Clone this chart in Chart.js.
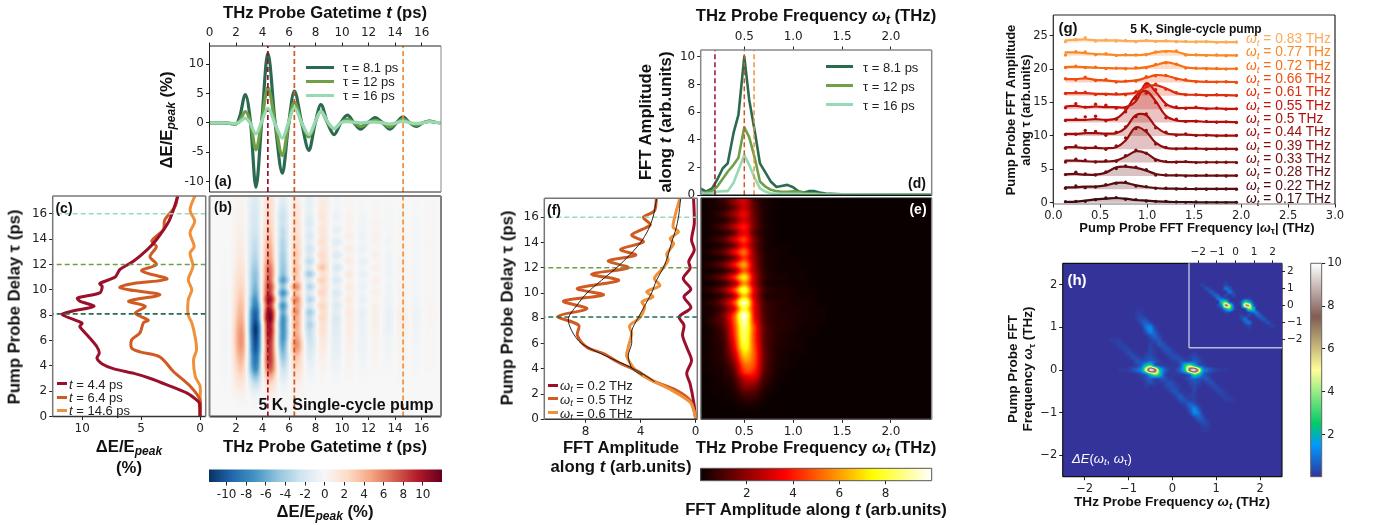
<!DOCTYPE html>
<html>
<head>
<meta charset="utf-8">
<script src="https://cdn.jsdelivr.net/npm/chart.js@4"></script>
<style>
	html, body { margin: 0; padding: 0; background: #fff; }
	#page { position: relative; width: 1374px; height: 525px; overflow: hidden; }
	canvas { position: absolute; left: 0; top: 0; }
	.lbl { position: absolute; white-space: nowrap; line-height: 1; color: #111; }
	.lbl sub { font-size: 0.72em; line-height: 0; vertical-align: -0.28em; }
	.key { position: absolute; height: 3px; }
</style>
</head>
<body>
<div id="page"></div>
<script>
// gate time knots (extrema and crossings of the waveforms)
const gateT = [0, 1, 1.5, 2, 2.3, 2.7, 3.1, 3.5, 3.95, 4.4, 4.95, 5.5, 5.95, 6.4, 6.95, 7.5, 7.95, 8.4, 8.9, 9.4, 9.9, 10.4, 10.9, 11.4, 11.95, 12.5, 13.05, 13.6, 14.1, 14.6, 15.1, 15.6, 16.1, 16.6, 17, 17.5];
const wave81 = [0, 0, -0.1, -0.2, 1.2, 4.8, 0, -11, 0.5, 11.9, 0, -8.6, -0.5, 5.4, 0, -4.7, -0.3, 3.1, 0, -2, 0, 1.3, 0, -1.1, 0, 0.9, 0, -1.1, 0, 1, 0, -0.6, 0, 0.3, 0.1, 0];
const wave12 = [0, 0, -0.1, -0.2, 0.4, 1.9, 0, -4.6, 0.5, 6, 0, -5.6, -0.4, 3.5, 0, -2.4, -0.1, 2, 0, -1, 0, 0.6, 0, -0.6, 0, 0.4, 0, -0.7, 0, 0.6, 0, -0.4, 0, 0.3, 0.1, 0];
const wave16 = [0, 0, -0.05, -0.1, 0.2, 0.8, -0.2, -1.9, 0.3, 2.5, -0.2, -2.6, 0, 2.6, 0, -2, 0, 2, 0.2, -1, 0, 0.2, 0.1, 0, 0.1, 0.1, 0, -0.2, 0, 0.3, 0, -0.1, 0, 0.2, 0.1, 0];
const gateCuts = [4.4, 6.4, 14.6];
const delayCuts = [8.1, 12, 16];

// panel (c) slices, value and delay pairs
const sliceA_tau = [0, 1, 1.2, 1.85, 2.5, 3, 3.4, 3.76, 4.15, 4.6, 5, 5.5, 6.3, 7.1, 7.35, 7.5, 8.05, 8.3, 8.7, 9.1, 9.35, 9.75, 10.25, 10.5, 11, 11.6, 12.25, 13.15, 13.95, 15.3, 16.3, 17.5];
const sliceA_val = [0, 0.05, 0.15, 1.1, 2.8, 4.2, 5.6, 7.3, 8.3, 8.75, 8.55, 8.75, 9.45, 10.2, 10, 10.3, 11.7, 10.9, 9, 10.2, 10.4, 8.5, 8.3, 8.5, 7.2, 6.8, 5.65, 4.5, 3.7, 2.7, 2.26, 1.85];
const sliceB_tau = [0, 1.3, 2.4, 3.55, 4.7, 5.1, 5.4, 6.05, 6.6, 7.4, 7.6, 8.15, 8.7, 9.1, 9.6, 10, 10.2, 10.5, 10.85, 11.5, 12, 12.6, 13.4, 13.85, 14.75, 15.5, 16.6, 17.5];
const sliceB_val = [0, 0, 0.85, 2.26, 3.4, 5.1, 5.8, 5.8, 5.1, 4.8, 4.4, 5.5, 4.65, 6.05, 3.4, 6.05, 6.8, 5.65, 2.8, 4.95, 3.7, 4.25, 3.7, 4.1, 3.1, 3, 2.1, 1.9];
const sliceC_tau = [0, 1.3, 2.4, 3.15, 4.5, 5.25, 6.2, 7.4, 8, 9.2, 10, 10.8, 11.85, 12.9, 13.4, 14.5, 15.4, 16.3, 17.5];
const sliceC_val = [0, 0, 0, 0.4, 0.55, 0.3, 0.4, 0.7, 1, 1, 0.7, 1, 0.6, 0.85, 0.5, 0.85, 0.45, 0.85, 0.4];

// panel (b) map, rows from delay 17.25 down to 0.25, columns at gate time 0.5 to 17.5
const mapB = [
	[0, 0, .3, -1.5, 1.9, -1.3, 1, -1, 1, -.3, .2, -.1, .1, -.1, .1, -.1, .1, 0],
	[0, 0, .3, -1.7, 2.1, -1.6, 1.2, -1.1, 1.1, -.3, .3, -.2, .2, -.1, .1, -.1, .1, 0],
	[0, 0, .4, -1.8, 2.3, -2.2, 1.5, -1, 1.2, -.4, .3, -.2, .2, -.2, .1, -.1, .1, 0],
	[0, 0, .5, -2, 2.5, -2.6, 1.6, -1.4, 1.4, -.8, .5, -.4, .2, -.2, .1, -.1, .1, 0],
	[0, 0, .5, -2, 2.7, -2.5, 1.9, -1.6, 1.2, -.4, .5, -.5, .5, -.3, .2, -.2, .1, 0],
	[0, 0, .6, -2.2, 3.1, -3, 1.8, -1.3, 1.5, -1, .4, -.4, .3, -.2, .2, -.1, .1, 0],
	[0, 0, .7, -2.5, 3.5, -3.1, 2.2, -1.8, 1.4, -.6, .8, -.7, .6, -.3, .3, -.2, .1, 0],
	[0, 0, .8, -2.8, 3.9, -3.5, 2.4, -1.5, 1.8, -1.4, .4, -.4, .4, -.4, .3, -.2, .2, 0],
	[0, 0, .9, -3, 4.4, -3.6, 2.8, -2.3, 1.5, -.6, 1, -.8, .3, -.3, .3, -.2, .1, 0],
	[0, 0, 1, -3.3, 4.8, -4, 3, -1.8, 2.3, -1.6, .5, -.4, .7, -.5, .4, -.2, .2, 0],
	[0, 0, 1.2, -3.7, 5.4, -4.2, 3, -3, 2, -.8, 1.1, -.9, .3, -.4, .4, -.3, .2, 0],
	[0, 0, 1.5, -4.2, 6.5, -4.6, 3.2, -2, 3.4, -1.9, .5, -.4, .7, -.5, .5, -.3, .2, 0],
	[0, 0, 1.7, -4.8, 6.9, -5, 3.5, -4, 1.8, -1, 1.2, -.9, .3, -.5, .4, -.3, .2, 0],
	[0, 0, 2, -5, 7.2, -6.5, 2.8, -2, 2.8, -1.8, .6, -.5, .7, -.4, .4, -.3, .2, 0],
	[0, 0, 2.4, -5.4, 8.3, -4.8, 5.8, -3.4, 2, -1, 1, -.8, .4, -.5, .5, -.3, .2, 0],
	[0, 0, 2.7, -6, 8.5, -7, 3.4, -2, 2.6, -1.8, .7, -.5, .7, -.5, .5, -.3, .2, 0],
	[0, 0, 3, -7, 10.4, -5, 5.8, -3.4, 1.6, -1.1, 1.1, -.9, .4, -.6, .5, -.4, .2, 0],
	[0, 0, 3.3, -8, 9, -7, 4.6, -2.2, 2.6, -1.7, .8, -.6, .7, -.7, .6, -.4, .3, 0],
	[0, 0, 3.6, -9.5, 11, -6, 5.5, -4, 2, -1.4, 1.2, -1, .7, -.9, .9, -.6, .3, 0],
	[0, 0, 3.9, -10, 11.7, -7, 4.4, -3, 2.4, -1.9, 1, -.9, .8, -.9, 1, -.6, .3, 0],
	[0, 0, 4.4, -11, 10, -7.2, 4.8, -3.6, 1.8, -1.6, 1, -.8, .7, -.9, .9, -.5, .3, 0],
	[0, 0, 4.8, -11.5, 10, -7, 4.2, -2.9, 1.8, -1.5, .9, -.8, .6, -.8, .7, -.4, .2, 0],
	[0, 0, 5, -11, 9.4, -7, 4.8, -2.6, 1.4, -1.3, .8, -.7, .5, -.6, .6, -.4, .2, 0],
	[0, 0, 5, -10.5, 8.8, -6.4, 5.6, -2.2, 1.2, -1.2, .7, -.7, .5, -.5, .5, -.3, .2, 0],
	[0, 0, 4.6, -10, 8.6, -5.6, 5, -1.8, 1, -1.1, .6, -.6, .4, -.5, .5, -.3, .2, 0],
	[0, 0, 4, -9, 8.6, -4.6, 3.4, -1.4, .8, -.9, .5, -.5, .3, -.4, .4, -.2, .1, 0],
	[0, 0, 3.4, -8.5, 8.3, -3.6, 2.8, -1, .5, -.7, .4, -.4, .2, -.3, .3, -.2, .1, 0],
	[0, 0, 2.8, -7.5, 7.3, -2.6, 2.2, -.7, .4, -.5, .3, -.3, .1, -.2, .2, -.1, .1, 0],
	[0, 0, 2.2, -5.5, 5, -1.8, 1.5, -.4, .2, -.3, .2, -.2, .1, -.1, .1, -.1, 0, 0],
	[0, 0, 1.6, -3.5, 3, -1, .9, -.2, .1, -.2, .1, -.1, 0, 0, .1, 0, 0, 0],
	[0, 0, 1, -2, 1.8, -.5, .5, -.1, 0, 0, 0, 0, 0, 0, 0, 0, 0, 0],
	[0, 0, .6, -.8, 1, -.2, .2, 0, 0, 0, 0, 0, 0, 0, 0, 0, 0, 0],
	[0, 0, .3, -.3, .2, 0, 0, 0, 0, 0, 0, 0, 0, 0, 0, 0, 0, 0],
	[0, 0, .1, -.1, 0, 0, 0, 0, 0, 0, 0, 0, 0, 0, 0, 0, 0, 0],
	[0, 0, 0, 0, 0, 0, 0, 0, 0, 0, 0, 0, 0, 0, 0, 0, 0, 0]
];

// panel (d) spectra
const fftFreq = [0.05, 0.11, 0.17, 0.22, 0.28, 0.33, 0.39, 0.44, 0.5, 0.55, 0.61, 0.66, 0.72, 0.77, 0.83, 0.88, 0.94, 1, 1.05, 1.11, 1.16, 1.22, 1.27, 1.33, 1.5, 2.42];
const spec81 = [.5, .26, .5, 1.1, 1.95, 2.3, 4.5, 5.8, 10, 6.9, 4.5, 2.3, 1.6, 1, .6, .67, .75, .58, .3, .2, .3, .3, .2, .12, .08, .05];
const spec12 = [.2, .2, .3, .6, 1.2, 1.7, 2.2, 2.7, 4.9, 4.2, 2.6, 1, .6, .4, .3, .25, .25, .28, .25, .18, .15, .14, .1, .08, .05, .04];
const spec16 = [.15, .1, .15, .25, .3, .3, .9, 1.8, 2.9, 2.2, 1.2, .5, .25, .15, .1, .1, .1, .1, .1, .08, .08, .08, .06, .06, .05, .04];
const freqCuts = [0.2, 0.5, 0.6];

// panel (e) map, rows from delay 17.25 down to 0.25, columns at frequency 0.1 to 1.3
const mapE = [
	[.1, .3, .8, 2, 3, 1.1, .3, .1, 0, 0, 0, 0, 0],
	[.1, .2, .5, 1.5, 2.8, 1.3, .3, .1, 0, 0, 0, 0, 0],
	[.1, .4, 1, 2.2, 3.4, 1.4, .3, .1, 0, 0, 0, 0, 0],
	[.1, .2, .5, 1.5, 3, 1.5, .3, .1, 0, 0, 0, 0, 0],
	[.1, .5, 1.2, 2.6, 3.9, 1.6, .4, .1, 0, 0, 0, 0, 0],
	[.1, .2, .5, 1.5, 3.4, 1.3, .3, .1, 0, 0, 0, 0, 0],
	[.1, .6, 1.3, 3, 4.5, 1.8, .4, .1, 0, 0, 0, 0, 0],
	[.1, .2, .6, 1.7, 3.8, 1.7, .4, .1, .1, 0, 0, 0, 0],
	[.2, .7, 1.5, 3.4, 5.2, 2, .4, .2, .1, 0, 0, 0, 0],
	[.1, .2, .6, 1.8, 4.4, 2.1, .5, .2, .1, .1, 0, 0, 0],
	[.3, .8, 1.7, 3.8, 6, 2.3, .5, .2, .1, .1, 0, 0, 0],
	[.1, .2, .7, 2, 5, 2.4, .6, .2, .1, .1, .1, 0, 0],
	[.3, .9, 1.9, 4.2, 7.2, 2.9, .7, .3, .2, .1, .1, 0, 0],
	[.1, .2, .8, 2.3, 5.8, 2.7, .6, .2, .2, .1, .1, 0, 0],
	[.3, .9, 2, 4.6, 8.2, 3.4, .9, .4, .3, .2, .1, .1, 0],
	[.1, .3, 1, 2.8, 6.7, 3.1, .7, .3, .3, .2, .1, .1, 0],
	[.3, .8, 2.1, 4.8, 9.5, 3.7, 1, .5, .4, .2, .2, .1, 0],
	[.2, .4, 1.3, 3.5, 8, 3.7, 1, .5, .3, .3, .2, .1, .1],
	[.2, .6, 1.9, 5, 9.8, 3.9, 1.2, .5, .4, .3, .2, .1, .1],
	[.2, .8, 1.7, 5, 9.3, 4.2, 1.2, .5, .4, .3, .2, .1, .1],
	[.1, .5, 1.4, 4.6, 8.8, 4.8, 1.4, .6, .4, .3, .1, .1, 0],
	[.1, .4, 1.2, 4.4, 8.6, 4.7, 1.4, .6, .3, .2, .1, .1, 0],
	[.1, .4, 1, 4, 8.3, 4.7, 1.4, .6, .3, .2, .1, 0, 0],
	[.1, .3, .9, 3.6, 7.9, 4.9, 1.5, .5, .3, .2, .1, 0, 0],
	[.1, .3, .8, 3, 6.9, 5, 1.6, .5, .2, .1, .1, 0, 0],
	[.1, .3, .7, 2.4, 6, 4.9, 1.6, .5, .2, .1, 0, 0, 0],
	[.1, .2, .5, 1.8, 5, 4.6, 1.5, .4, .2, .1, 0, 0, 0],
	[.1, .2, .4, 1.3, 4.3, 4, 1.3, .4, .1, 0, 0, 0, 0],
	[0, .1, .3, .9, 2.7, 3, 1, .3, .1, 0, 0, 0, 0],
	[0, .1, .2, .6, 2, 2, .7, .2, 0, 0, 0, 0, 0],
	[0, .1, .1, .4, 1.3, 1.2, .4, .1, 0, 0, 0, 0, 0],
	[0, 0, .1, .2, .7, .7, .2, 0, 0, 0, 0, 0, 0],
	[0, 0, 0, .1, .3, .3, .1, 0, 0, 0, 0, 0, 0],
	[0, 0, 0, 0, .1, .1, 0, 0, 0, 0, 0, 0, 0],
	[0, 0, 0, 0, 0, 0, 0, 0, 0, 0, 0, 0, 0]
];

// panel (f) slices and the thin fits
const cutE_tau = [0, 1.2, 2.8, 3.65, 4.65, 5.7, 6.65, 7.45, 8.1, 8.85, 9.7, 10.3, 11.15, 11.95, 12.5, 13.4, 14.2, 15.5, 17.5];
const cutE_val = [0, .12, .4, .65, .3, .65, .95, .85, 1.2, .35, .85, .35, .9, .4, .5, .1, .3, .1, .15];
const cutF_tau = [0, .4, 1.5, 2.3, 3.05, 3.85, 4.5, 5.2, 5.7, 6.65, 7.45, 8.15, 8.75, 9.35, 9.85, 10.35, 11, 11.5, 12, 12.55, 13, 13.45, 14.05, 14.6, 15.4, 16, 16.5, 17.5];
const cutF_val = [0, .05, .4, 1.4, 3.1, 4.3, 5.6, 6.7, 7.9, 8.6, 8.5, 10, 7.9, 9.6, 6.7, 8.6, 5.6, 7.55, 4.9, 6.35, 4.35, 5.45, 3.8, 4.65, 3.3, 3.8, 3, 2.85];
const cutG_tau = [0, .4, 1.35, 2.4, 3.6, 4.95, 5.7, 6.8, 7.4, 8, 8.9, 9.3, 9.7, 10.1, 10.6, 11.15, 12, 12.6, 13.1, 13.9, 14.3, 14.85, 15.25, 17.5];
const cutG_val = [0, .05, .4, 1.9, 4.05, 5, 4.9, 4.65, 4.8, 4.1, 3.7, 3.9, 3.1, 3.55, 2.6, 3, 2.35, 2, 2.1, 1.6, 1.85, 1.25, 1.65, 1.15];
const fitF_tau = [3, 4, 5, 6, 7, 8, 9, 10, 11, 12, 13, 14, 15, 16, 17.4];
const fitF_val = [3, 4.5, 6.5, 8.3, 9, 9.25, 8.65, 7.9, 6.85, 5.75, 4.8, 4, 3.45, 3.1, 2.85];
const fitG_tau = [3.5, 4, 5, 6, 7, 8, 9, 10, 11, 12, 13, 14, 15, 16, 17.4];
const fitG_val = [3.9, 4.6, 4.9, 4.65, 4.65, 4.2, 3.7, 3.2, 2.85, 2.35, 2, 1.75, 1.45, 1.25, 1.1];

// panel (g) waterfall, amplitudes above each baseline
const pumpFreq = [0.13, 0.24, 0.34, 0.45, 0.56, 0.67, 0.77, 0.88, 0.99, 1.09, 1.2, 1.31, 1.41, 1.52, 1.63, 1.74, 1.84, 1.95];
const probeLabels = ['0.17', '0.22', '0.28', '0.33', '0.39', '0.44', '0.5', '0.55', '0.61', '0.66', '0.72', '0.77', '0.83'];
const probeBase = [0, 2, 4, 6, 8, 10, 12, 14, 16, 18, 20, 22, 24];
const probeColors = ['#420a0e', '#560c10', '#690d10', '#7a0d0e', '#8c0d0c', '#9e0e0a', '#b00f0a', '#c4120a', '#de2c0c', '#f04c0e', '#f86e14', '#fb8826', '#fcab58'];
const fit017 = [.1, .15, .3, .5, .6, .7, .6, .4, .3, .2, .15, .1, .1, .05, .05, .05, .05, .05];
const fit022 = [.3, .3, .4, .4, .6, .95, .95, .6, .35, .2, .1, .1, .05, .05, .05, .05, .05, .05];
const fit028 = [.25, .3, .2, .2, .5, 1.3, 1.4, 1.2, .8, .3, .1, .1, .05, .05, .05, .05, .05, .05];
const fit033 = [.3, .3, .2, .15, .15, .3, .9, 1.7, 1.4, .5, .1, .1, .1, .05, .05, .05, .05, .05];
const fit039 = [.3, .3, .2, .2, .15, .3, 1.3, 3.3, 2.6, 1, .2, .1, .1, .1, .05, .05, .05, .05];
const fit044 = [.3, .3, .4, .4, .35, .4, 1.2, 3.1, 3.1, 1.4, .4, .2, .2, .1, .1, .05, .05, .05];
const fit050 = [.4, .4, .4, .5, .4, .6, 1.8, 4, 4.7, 3.2, 1, .3, .2, .2, .1, .1, .1, .05];
const fit055 = [.4, .5, .3, .4, .3, .3, .3, 1.2, 3.9, 2.6, .8, .2, .2, .2, .1, .1, .05, .05];
const fit061 = [.4, .4, .4, .3, .3, .2, .3, .5, 1.3, 1.6, 1.1, .4, .2, .15, .1, .1, .1, .05];
const fit066 = [.5, .5, .6, .4, .3, .15, .15, .3, .7, 1.1, 1, .6, .3, .15, .1, .1, .1, .05];
const fit072 = [.3, .35, .3, .2, .15, .1, .1, .1, .3, .6, 1, .7, .25, .1, .1, .05, .05, .05];
const fit077 = [.5, .5, .4, .25, .2, .1, .1, .1, .2, .5, .7, .6, .2, .1, .1, .05, .05, .05];
const fit083 = [.3, .4, .45, .3, .3, .3, .2, .2, .25, .2, .2, .15, .1, .1, .1, .05, .05, .05];
const fitAll = [fit017, fit022, fit028, fit033, fit039, fit044, fit050, fit055, fit061, fit066, fit072, fit077, fit083];
const dot017 = [.15, .2, .2, .45, .7, .75, .5, .45, .25, .2, .2, .1, .05, .1, .05, .05, 0, .05];
const dot022 = [.15, .5, .25, .35, .7, .9, 1.05, .5, .4, .15, .15, .05, .1, .05, 0, .05, .05, 0];
const dot028 = [.2, .55, .3, .15, .6, 1.1, 1.5, 1.3, .95, .15, .15, .1, 0, .05, .1, .05, 0, .05];
const dot033 = [.1, .5, .35, .1, .3, .2, 1.05, 1.85, 1.4, .35, .15, .05, .15, 0, .05, .05, .05, 0];
const dot039 = [.15, .5, .15, .35, 0, .5, 1.7, 3.1, 2.8, .8, .25, .05, .15, .1, 0, .05, .05, 0];
const dot044 = [.2, .25, .8, .65, .1, .55, 1.35, 2.9, 3.3, 1.2, .55, .1, .3, .05, .1, 0, .05, .05];
const dot050 = [.3, .5, .85, .95, .25, .5, 1.6, 3.8, 4.4, 3, .7, .5, .15, .2, .15, .05, .1, 0];
const dot055 = [.2, .8, .3, .75, .6, .15, .1, 1.5, 3.7, 2.9, .6, .35, .1, .3, .05, .15, 0, .05];
const dot061 = [.35, .55, .55, .2, .2, .3, .15, .6, 1.5, 1.75, 1, .45, .15, .15, .05, .15, .05, .05];
const dot066 = [.55, .4, .8, .3, .45, .05, .2, .2, .85, 1, 1.05, .5, .4, .1, .15, .05, .1, 0];
const dot072 = [.25, .45, .25, .3, .1, .15, .05, .2, .2, .7, .95, .75, .15, .15, .05, .1, 0, .05];
const dot077 = [.1, .6, .55, .15, .3, .05, .15, .1, .15, .55, .65, .7, .1, .15, .05, .1, 0, .05];
const dot083 = [.1, .4, .7, .2, .35, .2, .3, .1, .3, .15, .25, .1, .15, .05, .1, 0, .05, .05];
const dotAll = [dot017, dot022, dot028, dot033, dot039, dot044, dot050, dot055, dot061, dot066, dot072, dot077, dot083];

// panel (h) map, rows from +1.4 down to -1.4, columns -1.4 to 1.4, both every 0.1
const mapH = [
	[0, 0, 0, 0, 0, 0, .1, .1],
	[0, 0, 0, 0, 0, 0, .2, .2],
	[0, 0, 0, 0, 0, 0, .2, .4, .3],
	[0, 0, 0, 0, 0, 0, 0, .4, .7, .4],
	[0, 0, 0, 0, 0, 0, 0, .1, .9, 1.2, .3],
	[0, 0, 0, 0, 0, 0, 0, 0, .5, 1.2, .6, .1],
	[0, 0, 0, 0, 0, 0, 0, 0, .1, .5, .7, .3],
	[.1, .15, .15, 0, 0, 0, 0, 0, 0, .2, .4, .5, .1],
	[0, .1, .2, .15, 0, 0, 0, 0, 0, .2, .1, .5, .4, .1],
	[0, 0, .1, .25, .2, 0, 0, 0, 0, .25, .1, .1, .4, .4, .1],
	[0, 0, 0, .1, .3, .2, 0, 0, .1, .3, .1, 0, .1, .4, .3, .1, 0, 0, 0, .15],
	[0, 0, 0, 0, .1, .4, .25, .1, .3, .4, .25, 0, 0, .1, .35, .4, .2, .1, .2, .4, .2],
	[0, 0, 0, 0, 0, .1, .5, .4, .6, .9, .5, .2, 0, 0, .1, .2, .5, .5, .5, .7, .4, .1],
	[0, 0, 0, 0, 0, .1, .3, .8, 2.5, 3.5, 1.2, .4, .2, .1, .1, .1, .7, 2.8, 4, 2.6, .9, .4, .1],
	[0, 0, .1, .1, .2, .4, .8, 1.5, 5, 9.5, 8, 3, 1, .3, .1, .3, 1, 3, 8, 9.5, 6, 1.5, .8, .4, .2, .1, .1, 0, 0],
	[0, 0, 0, 0, 0, 0, .1, .4, .9, 2.6, 4, 2.8, .7, .1, .1, .1, .2, .4, 1.2, 3.5, 2.5, .8, .3, .1],
	[0, 0, 0, 0, 0, 0, 0, .1, .4, .7, .5, .5, .5, .2, .1, 0, 0, .2, .5, .9, .6, .4, .5, .1],
	[0, 0, 0, 0, 0, 0, 0, 0, .2, .4, .2, .1, .2, .4, .35, .1, 0, 0, .25, .4, .3, .1, .25, .4, .1],
	[0, 0, 0, 0, 0, 0, 0, 0, .15, 0, 0, 0, .1, .3, .4, .3, .1, 0, .1, .3, .1, 0, 0, .2, .3, .1],
	[0, 0, 0, 0, 0, 0, 0, 0, 0, 0, 0, 0, 0, .1, .4, .4, .1, .1, 0, .25, 0, 0, 0, 0, .2, .25, .1],
	[0, 0, 0, 0, 0, 0, 0, 0, 0, 0, 0, 0, 0, 0, .1, .4, .5, .1, .2, .2, 0, 0, 0, 0, 0, .15, .2, .1],
	[0, 0, 0, 0, 0, 0, 0, 0, 0, 0, 0, 0, 0, 0, 0, .1, .5, .4, .2, .2, 0, 0, 0, 0, 0, 0, .15, .15, .1],
	[0, 0, 0, 0, 0, 0, 0, 0, 0, 0, 0, 0, 0, 0, 0, 0, .1, .3, .7, .5, .1],
	[0, 0, 0, 0, 0, 0, 0, 0, 0, 0, 0, 0, 0, 0, 0, 0, 0, .1, .6, 1.2, .5],
	[0, 0, 0, 0, 0, 0, 0, 0, 0, 0, 0, 0, 0, 0, 0, 0, 0, 0, .3, 1.2, .9, .1],
	[0, 0, 0, 0, 0, 0, 0, 0, 0, 0, 0, 0, 0, 0, 0, 0, 0, 0, 0, .4, .7, .4],
	[0, 0, 0, 0, 0, 0, 0, 0, 0, 0, 0, 0, 0, 0, 0, 0, 0, 0, 0, 0, .3, .4, .2],
	[0, 0, 0, 0, 0, 0, 0, 0, 0, 0, 0, 0, 0, 0, 0, 0, 0, 0, 0, 0, 0, .2, .2],
	[0, 0, 0, 0, 0, 0, 0, 0, 0, 0, 0, 0, 0, 0, 0, 0, 0, 0, 0, 0, 0, .1, .1]
];

// inset of (h), rows from +2 down to -2, columns -2 to 2, both every 0.2
const mapInset = [
	[],
	[],
	[],
	[0, 0, 0, 0, 0, 0, 0, .1],
	[0, .2, .1, 0, 0, 0, 0, .3, .1],
	[0, 0, .4, .2, 0, 0, 0, .9, .6],
	[0, 0, 0, .5, .4, 0, 0, .1, .9, .3],
	[0, 0, 0, 0, .6, .6, 0, .3, .1, .3],
	[0, 0, 0, 0, 0, .9, .9, .5, .1, 0, 0, 0, .4, .4],
	[0, 0, 0, 0, 0, 0, 2.5, 3.5, .7, .1, 0, .6, 3, 2, .4],
	[0, 0, 0, 0, 0, .4, 1.5, 7, 4.5, .6, .1, .7, 6, 6, 1.2, .1],
	[0, 0, 0, 0, 0, 0, .4, 2, 3, .7, 0, .1, .7, 3.5, 2.5],
	[0, 0, 0, 0, 0, 0, 0, .4, .4, 0, 0, 0, 0, .5, .9, .9],
	[0, 0, 0, 0, 0, 0, 0, 0, 0, 0, 0, .3, .1, .3, 0, .6, .6],
	[0, 0, 0, 0, 0, 0, 0, 0, 0, 0, 0, .3, .9, .1, 0, 0, .4, .5],
	[0, 0, 0, 0, 0, 0, 0, 0, 0, 0, 0, 0, .6, .9, 0, 0, 0, .2, .4],
	[0, 0, 0, 0, 0, 0, 0, 0, 0, 0, 0, 0, .1, .3, 0, 0, 0, 0, .1, .2],
	[0, 0, 0, 0, 0, 0, 0, 0, 0, 0, 0, 0, 0, .1],
	[],
	[],
	[]
];

const rdbuStops = [[0, '#053061'], [.1, '#2166ac'], [.2, '#4393c3'], [.3, '#92c5de'], [.4, '#d1e5f0'], [.5, '#f7f7f7'], [.6, '#fddbc7'], [.7, '#f4a582'], [.8, '#d6604d'], [.9, '#b2182b'], [1, '#67001f']];
const hotStops = [[0, '#0a0000'], [.365, '#ff0000'], [.746, '#ffff00'], [1, '#ffffff']];
const terrainStops = [[0, '#333399'], [.15, '#0099ff'], [.25, '#00cc66'], [.5, '#ffff99'], [.75, '#805c54'], [1, '#ffffff']];

const colGreenDark = '#2a6b50';
const colGreen = '#6fa048';
const colGreenLight = '#97d9b2';
const colCutA = '#9b0f2d';
const colCutB = '#cf5a22';
const colCutC = '#f0913a';

const page = document.getElementById('page');

function hexRgb(h) {
	return [parseInt(h.slice(1, 3), 16), parseInt(h.slice(3, 5), 16), parseInt(h.slice(5, 7), 16)];
}

function cmap(stops, lo, hi) {
	const parsed = stops.map(s => [s[0], hexRgb(s[1])]);
	return v => {
		const p = Math.min(1, Math.max(0, (v - lo) / (hi - lo)));
		for (let i = 1; i < parsed.length; i++) {
			if (p <= parsed[i][0]) {
				const a = parsed[i - 1], b = parsed[i];
				const f = (p - a[0]) / (b[0] - a[0]);
				return [0, 1, 2].map(k => a[1][k] + (b[1][k] - a[1][k]) * f);
			}
		}
		return parsed[parsed.length - 1][1];
	};
}

const colorB = cmap(rdbuStops, -11.9, 11.9);
const colorE = cmap(hotStops, 0, 10);
const colorH = cmap(terrainStops, 0, 10);

function cubic(p0, p1, p2, p3, t) {
	return p1 + 0.5 * t * (p2 - p0 + t * (2 * p0 - 5 * p1 + 4 * p2 - p3 + t * (3 * (p1 - p2) + p3 - p0)));
}

// imshow style map: smoothed in value space, pixel by pixel through the chart scales
function heatPlugin(grid, x0, x1, yTop, yBottom, colorFn) {
	const rows = grid.length;
	const cols = Math.max(...grid.map(r => r.length));
	const cell = (r, c) => {
		const row = grid[Math.min(rows - 1, Math.max(0, r))];
		return row[Math.min(cols - 1, Math.max(0, c))] || 0;
	};
	const sample = (fr, fc) => {
		const ir = Math.floor(fr), ic = Math.floor(fc);
		const line = [];
		for (let k = -1; k <= 2; k++) {
			line.push(cubic(cell(ir + k, ic - 1), cell(ir + k, ic), cell(ir + k, ic + 1), cell(ir + k, ic + 2), fc - ic));
		}
		return cubic(line[0], line[1], line[2], line[3], fr - ir);
	};
	return {
		id: 'heat',
		beforeDatasetsDraw(chart) {
			const { ctx, chartArea: a, scales } = chart;
			const left = Math.round(a.left), top = Math.round(a.top);
			const w = Math.round(a.right) - left, h = Math.round(a.bottom) - top;
			const img = ctx.createImageData(w, h);
			for (let py = 0; py < h; py++) {
				const yv = scales.y.getValueForPixel(top + py + 0.5);
				const fr = (yv - yTop) / (yBottom - yTop) * rows - 0.5;
				for (let px = 0; px < w; px++) {
					const xv = scales.x.getValueForPixel(left + px + 0.5);
					const fc = (xv - x0) / (x1 - x0) * cols - 0.5;
					const inside = fc >= -0.5 && fc <= cols - 0.5 && fr >= -0.5 && fr <= rows - 0.5;
					const rgb = colorFn(inside ? sample(fr, fc) : 0);
					const k = (py * w + px) * 4;
					img.data[k] = rgb[0];
					img.data[k + 1] = rgb[1];
					img.data[k + 2] = rgb[2];
					img.data[k + 3] = 255;
				}
			}
			ctx.putImageData(img, left, top);
		}
	};
}

// colour bar, one stripe per pixel from the scale
function barPlugin(colorFn, vertical) {
	return {
		id: 'bar',
		beforeDatasetsDraw(chart) {
			const { ctx, chartArea: a, scales } = chart;
			if (vertical) {
				for (let p = Math.floor(a.top); p < a.bottom; p++) {
					const c = colorFn(scales.y.getValueForPixel(p + 0.5)).map(Math.round);
					ctx.fillStyle = `rgb(${c[0]},${c[1]},${c[2]})`;
					ctx.fillRect(a.left, p, a.width, 1);
				}
			} else {
				for (let p = Math.floor(a.left); p < a.right; p++) {
					const c = colorFn(scales.x.getValueForPixel(p + 0.5)).map(Math.round);
					ctx.fillStyle = `rgb(${c[0]},${c[1]},${c[2]})`;
					ctx.fillRect(p, a.top, 1, a.height);
				}
			}
		}
	};
}

// spines with their own colours
function framePlugin(f) {
	return {
		id: 'frame',
		afterDraw(chart) {
			const { ctx, chartArea: a } = chart;
			const side = (key, x0, y0, x1, y1) => {
				if (!f[key]) return;
				ctx.strokeStyle = f[key];
				ctx.lineWidth = f.w || 1;
				ctx.beginPath();
				ctx.moveTo(x0, y0);
				ctx.lineTo(x1, y1);
				ctx.stroke();
			};
			side('top', a.left, a.top, a.right, a.top);
			side('bottom', a.left, a.bottom, a.right, a.bottom);
			side('left', a.left, a.top, a.left, a.bottom);
			side('right', a.right, a.top, a.right, a.bottom);
		}
	};
}

// axes get a fixed box so the plot area lands where the layout padding says
const axisRoom = 30;

function axis(a) {
	const hasTicks = a.ticks && a.ticks.length > 0;
	return {
		type: 'linear',
		position: a.position,
		reverse: !!a.reverse,
		min: a.min,
		max: a.max,
		afterFit: s => {
			if (s.isHorizontal()) s.height = axisRoom;
			else s.width = axisRoom;
		},
		afterBuildTicks: s => {
			s.ticks = (a.ticks || []).map(v => ({ value: v }));
		},
		grid: { display: hasTicks, drawOnChartArea: false, drawTicks: hasTicks, tickLength: a.tick || 3.5, tickColor: a.tickColor || '#222', tickWidth: 1 },
		border: { display: false },
		ticks: {
			display: hasTicks,
			autoSkip: false,
			maxRotation: 0,
			minRotation: 0,
			color: '#222',
			font: { family: 'DejaVu Sans', size: a.size || 12 },
			padding: a.pad === undefined ? 2 : a.pad,
			callback: a.fmt || (v => v)
		}
	};
}

function panel(box, opt) {
	const canvas = document.createElement('canvas');
	canvas.width = 1374;
	canvas.height = 525;
	page.appendChild(canvas);
	const pad = { left: box.l, top: box.t, right: 1374 - box.r, bottom: 525 - box.b };
	pad[opt.x.position] -= axisRoom;
	pad[opt.y.position] -= axisRoom;
	return new Chart(canvas, {
		type: 'scatter',
		data: { datasets: opt.datasets || [] },
		options: {
			responsive: false,
			animation: false,
			events: [],
			layout: { padding: pad },
			plugins: { legend: { display: false }, tooltip: { enabled: false } },
			scales: { x: axis(opt.x), y: axis(opt.y) }
		},
		plugins: opt.plugins || []
	});
}

function curve(xs, ys, color, width, extra) {
	return Object.assign({
		data: xs.map((x, i) => ({ x, y: ys[i] })),
		showLine: true,
		borderColor: color,
		backgroundColor: color,
		borderWidth: width,
		pointRadius: 0,
		borderJoinStyle: 'round',
		borderCapStyle: 'round'
	}, extra || {});
}

function vCut(x, y0, y1, color, w) {
	return curve([x, x], [y0, y1], color, w || 1.7, { borderDash: [5, 3], borderCapStyle: 'butt' });
}

function hCut(y, x0, x1, color) {
	return curve([x0, x1], [y, y], color, 1.6, { borderDash: [5, 3], borderCapStyle: 'butt' });
}

function label(html, x, y, size, opt) {
	opt = opt || {};
	const el = document.createElement('div');
	el.className = 'lbl';
	el.innerHTML = html;
	el.style.left = x + 'px';
	el.style.top = y + 'px';
	el.style.fontSize = size + 'px';
	el.style.fontFamily = opt.family || "'Liberation Sans'";
	el.style.fontWeight = opt.weight || 'bold';
	if (opt.color) el.style.color = opt.color;
	const ax = opt.anchor === 'left' ? '0' : '-50%';
	el.style.transform = `translate(${ax},-50%)` + (opt.rot ? ` rotate(${opt.rot}deg)` : '');
	page.appendChild(el);
}

function keyLine(x0, x1, y, color) {
	const el = document.createElement('div');
	el.className = 'key';
	el.style.left = x0 + 'px';
	el.style.top = (y - 1.5) + 'px';
	el.style.width = (x1 - x0) + 'px';
	el.style.background = color;
	page.appendChild(el);
}

const minusFmt = v => String(v).replace('-', '\u2212');
const oneDec = v => v.toFixed(1);
const tauBox = [0, 2, 4, 6, 8, 10, 12, 14, 16];
const gateTicks = [0, 2, 4, 6, 8, 10, 12, 14, 16];
const freqTicks = [0.5, 1, 1.5, 2];

// (a)
panel({ l: 209.5, r: 441, t: 46, b: 192 }, {
	x: { position: 'top', min: 0, max: 17.46, ticks: gateTicks },
	y: { position: 'left', min: -11.8, max: 13.1, ticks: [-10, -5, 0, 5, 10] },
	datasets: [
		curve(gateT, wave16, colGreenLight, 3.2, { cubicInterpolationMode: 'monotone' }),
		vCut(gateCuts[0], -11.8, 13.1, colCutA),
		vCut(gateCuts[1], -11.8, 13.1, colCutB),
		vCut(gateCuts[2], -11.8, 13.1, colCutC),
		curve(gateT, wave12, colGreen, 3.2, { cubicInterpolationMode: 'monotone' }),
		curve(gateT, wave81, colGreenDark, 3.2, { cubicInterpolationMode: 'monotone' })
	],
	plugins: [framePlugin({ top: '#222', left: '#222', bottom: '#222', right: '#888' })]
});

// (b)
panel({ l: 209.5, r: 441, t: 196, b: 416.5 }, {
	x: { position: 'bottom', min: 0, max: 17.46, ticks: gateTicks.slice(1) },
	y: { position: 'left', min: 0, max: 17.4, ticks: [] },
	datasets: [
		vCut(gateCuts[0], 0, 17.4, colCutA),
		vCut(gateCuts[1], 0, 17.4, colCutB),
		vCut(gateCuts[2], 0, 17.4, colCutC)
	],
	plugins: [heatPlugin(mapB, 0, 18, 17.5, 0, colorB), framePlugin({ w: 2, top: '#808080', left: '#808080', right: '#808080', bottom: '#444' })]
});

// (c)
panel({ l: 52.7, r: 205.7, t: 196, b: 416.5 }, {
	x: { position: 'bottom', min: -0.48, max: 12.5, reverse: true, ticks: [0, 5, 10] },
	y: { position: 'left', min: 0, max: 17.4, ticks: tauBox },
	datasets: [
		hCut(delayCuts[0], -0.48, 12.5, colGreenDark),
		hCut(delayCuts[1], -0.48, 12.5, colGreen),
		hCut(delayCuts[2], -0.48, 12.5, colGreenLight),
		curve(sliceA_val, sliceA_tau, colCutA, 3, { tension: 0.25 }),
		curve(sliceB_val, sliceB_tau, colCutB, 3, { tension: 0.3 }),
		curve(sliceC_val, sliceC_tau, colCutC, 3, { tension: 0.3 })
	],
	plugins: [framePlugin({ w: 1.5, top: '#777', left: '#777', right: '#777', bottom: '#333' })]
});

// colour bar of (b)
panel({ l: 209.5, r: 441.5, t: 469.5, b: 482 }, {
	x: { position: 'bottom', min: -11.75, max: 11.9, ticks: [-10, -8, -6, -4, -2, 0, 2, 4, 6, 8, 10], pad: 2 },
	y: { position: 'left', min: 0, max: 1, ticks: [] },
	plugins: [barPlugin(colorB, false)]
});

// (d)
panel({ l: 700.7, r: 931.7, t: 50, b: 195.3 }, {
	x: { position: 'top', min: 0.054, max: 2.417, ticks: freqTicks, fmt: oneDec },
	y: { position: 'left', min: 0, max: 10.48, ticks: [0, 2, 4, 6, 8, 10] },
	datasets: [
		vCut(freqCuts[0], 0, 10.48, colCutA, 1.5),
		vCut(freqCuts[1], 0, 10.48, colCutB, 1.5),
		vCut(freqCuts[2], 0, 10.48, colCutC, 1.5),
		curve(fftFreq, spec16, colGreenLight, 2.6),
		curve(fftFreq, spec12, colGreen, 2.6),
		curve(fftFreq, spec81, colGreenDark, 2.6)
	],
	plugins: [framePlugin({ w: 1.5, top: '#888', left: '#888', right: '#888', bottom: '#111' })]
});

// (e)
panel({ l: 700.7, r: 931.7, t: 198.3, b: 419.3 }, {
	x: { position: 'bottom', min: 0.054, max: 2.417, ticks: freqTicks, fmt: oneDec, tick: 3.5 },
	y: { position: 'left', min: 0, max: 17.5, ticks: [] },
	plugins: [heatPlugin(mapE, 0.05, 1.35, 17.5, 0, colorE), framePlugin({ w: 1.5, top: '#111', left: '#888', right: '#888', bottom: '#555' })]
});

// (f)
panel({ l: 544.3, r: 697.3, t: 198.3, b: 419.3 }, {
	x: { position: 'bottom', min: -0.12, max: 11, reverse: true, ticks: [0, 4, 8] },
	y: { position: 'left', min: 0, max: 17.5, ticks: tauBox },
	datasets: [
		curve(fitF_val, fitF_tau, '#111', 0.9, { tension: 0.3 }),
		curve(fitG_val, fitG_tau, '#111', 0.9, { tension: 0.3 }),
		hCut(delayCuts[0], -0.12, 11, colGreenDark),
		hCut(delayCuts[1], -0.12, 11, colGreen),
		hCut(delayCuts[2], -0.12, 11, colGreenLight),
		curve(cutG_val, cutG_tau, colCutC, 3, { tension: 0.3 }),
		curve(cutF_val, cutF_tau, colCutB, 3, { tension: 0.3 }),
		curve(cutE_val, cutE_tau, colCutA, 3, { tension: 0.3 })
	],
	plugins: [framePlugin({ w: 1.5, top: '#777', left: '#777', right: '#777', bottom: '#333' })]
});

// colour bar of (e)
panel({ l: 700.7, r: 931.7, t: 468.3, b: 480.7 }, {
	x: { position: 'bottom', min: 0, max: 10, ticks: [2, 4, 6, 8], pad: 2 },
	y: { position: 'left', min: 0, max: 1, ticks: [] },
	plugins: [barPlugin(colorE, false), framePlugin({ top: '#555', left: '#555', right: '#555', bottom: '#555' })]
});

// (g)
const waterfall = [];
probeLabels.forEach((name, i) => {
	const base = probeBase[i];
	waterfall.push(curve(pumpFreq, fitAll[i].map(v => v + base), probeColors[i], 2.2, {
		tension: 0.35,
		fill: { value: base },
		backgroundColor: probeColors[i] + '40'
	}));
	waterfall.push(Object.assign(curve(pumpFreq, dotAll[i].map(v => v + base), probeColors[i], 0), {
		showLine: false,
		pointRadius: 1.7,
		pointBorderWidth: 0,
		pointBackgroundColor: probeColors[i]
	}));
});
panel({ l: 1053.3, r: 1335, t: 15, b: 204 }, {
	x: { position: 'bottom', min: 0, max: 3, ticks: [0, .5, 1, 1.5, 2, 2.5, 3], fmt: oneDec, size: 11.5 },
	y: { position: 'left', min: -0.2, max: 28.1, ticks: [0, 5, 10, 15, 20, 25], size: 11.5 },
	datasets: waterfall.reverse(),
	plugins: [framePlugin({ w: 1.2, top: '#222', left: '#222', right: '#222', bottom: '#777' })]
});

// (h)
panel({ l: 1062.7, r: 1282, t: 263.3, b: 476.7 }, {
	x: { position: 'bottom', min: -2.5, max: 2.5, ticks: [-2, -1, 0, 1, 2], fmt: minusFmt, size: 11.5 },
	y: { position: 'left', min: -2.5, max: 2.5, ticks: [-2, -1, 0, 1, 2], fmt: minusFmt, size: 11.5 },
	plugins: [heatPlugin(mapH, -1.45, 1.45, 1.45, -1.45, colorH), framePlugin({ w: 1.2, top: '#111', left: '#111', right: '#111', bottom: '#111' })]
});

// inset of (h)
panel({ l: 1189, r: 1282, t: 263.3, b: 347.7 }, {
	x: { position: 'top', min: -2.5, max: 2.5, ticks: [-2, -1, 0, 1, 2], fmt: minusFmt, size: 10.5, tick: 3 },
	y: { position: 'right', min: -2.5, max: 2.5, ticks: [-2, -1, 0, 1, 2], fmt: minusFmt, size: 10.5, tick: 3 },
	plugins: [heatPlugin(mapInset, -2.1, 2.1, 2.1, -2.1, colorH), framePlugin({ w: 1.5, left: '#b9b9dc', bottom: '#b9b9dc' })]
});

// colour bar of (h)
panel({ l: 1310.7, r: 1321.7, t: 263.3, b: 476.7 }, {
	x: { position: 'bottom', min: 0, max: 1, ticks: [] },
	y: { position: 'right', min: 0.03, max: 10, ticks: [2, 4, 6, 8, 10], size: 11.5 },
	plugins: [barPlugin(colorH, true), framePlugin({ top: '#666', left: '#666', right: '#666', bottom: '#666' })]
});

// text
const dEpeak = '\u0394E/E<sub><i>peak</i></sub>';
const wt = '<i>\u03c9</i><sub><i>t</i></sub>';
const wtau = '<i>\u03c9</i><sub>\u03c4</sub>';
const titleSize = 16.7;

label('THz Probe Gatetime <i>t</i> (ps)', 325, 13, titleSize);
label('THz Probe Gatetime <i>t</i> (ps)', 325, 447, titleSize);
label(dEpeak + ' (%)', 167, 120, titleSize, { rot: -90 });
label('Pump Probe Delay \u03c4 (ps)', 15, 307, titleSize, { rot: -90 });
label(dEpeak, 129, 447, titleSize);
label('(%)', 129, 468, titleSize);
label(dEpeak + ' (%)', 325, 512, titleSize);
label('THz Probe Frequency ' + wt + ' (THz)', 816, 16, titleSize);
label('THz Probe Frequency ' + wt + ' (THz)', 816, 448, titleSize);
label('FFT Amplitude', 646, 122, titleSize, { rot: -90 });
label('along <i>t</i> (arb.units)', 666, 122, titleSize, { rot: -90 });
label('Pump Probe Delay \u03c4 (ps)', 508, 308, titleSize, { rot: -90 });
label('FFT Amplitude', 621, 448, titleSize);
label('along <i>t</i> (arb.units)', 621, 467, titleSize);
label('FFT Amplitude along <i>t</i> (arb.units)', 816, 510, titleSize);

label('(a)', 223, 181, 14);
label('(b)', 223, 207, 14);
label('(c)', 64, 208, 14);
label('(d)', 917, 183, 14);
label('(e)', 918, 209, 14, { color: '#fff' });
label('(f)', 554, 210, 14);
label('5 K, Single-cycle pump', 346, 405, 16);

const keyText = { weight: 'normal', anchor: 'left', color: '#222' };
keyLine(306, 334, 67, colGreenDark);
keyLine(306, 334, 81, colGreen);
keyLine(306, 334, 95, colGreenLight);
label('\u03c4 = 8.1 ps', 343, 67, 13, keyText);
label('\u03c4 = 12 ps', 343, 81, 13, keyText);
label('\u03c4 = 16 ps', 343, 95, 13, keyText);

keyLine(57, 67, 383.5, colCutA);
keyLine(57, 67, 397, colCutB);
keyLine(57, 67, 410, colCutC);
label('<i>t</i> = 4.4 ps', 69, 383.5, 13, keyText);
label('<i>t</i> = 6.4 ps', 69, 397, 13, keyText);
label('<i>t</i> = 14.6 ps', 69, 410, 13, keyText);

keyLine(826, 853, 66.7, colGreenDark);
keyLine(826, 853, 85.7, colGreen);
keyLine(826, 853, 104.7, colGreenLight);
label('\u03c4 = 8.1 ps', 863, 67, 13, keyText);
label('\u03c4 = 12 ps', 863, 86, 13, keyText);
label('\u03c4 = 16 ps', 863, 105, 13, keyText);

keyLine(548, 558, 385, colCutA);
keyLine(548, 558, 398.7, colCutB);
keyLine(548, 558, 412.7, colCutC);
label(wt + ' = 0.2 THz', 560, 385, 13, keyText);
label(wt + ' = 0.5 THz', 560, 398.7, 13, keyText);
label(wt + ' = 0.6 THz', 560, 412.7, 13, keyText);

// (g) text
label('(g)', 1068, 27, 15);
label('5 K, Single-cycle pump', 1196, 29, 12);
label('Pump Probe FFT Amplitude', 1010, 110, 13, { rot: -90 });
label('along \u03c4 (arb.units)', 1025, 110, 13, { rot: -90 });
label('Pump Probe FFT Frequency |' + wtau + '| (THz)', 1197, 227, 13);
probeLabels.forEach((name, i) => {
	label(wt + ' = ' + name + ' THz', 1246, 199 - i * 13.33, 13.8, { weight: 'normal', anchor: 'left', color: probeColors[i] });
});

// (h) text
label('(h)', 1077, 279, 15, { color: '#fff' });
label('<i>\u0394E</i>(' + wt + ', ' + wtau + ')', 1072, 458, 13, { weight: 'normal', anchor: 'left', color: '#fff' });
label('Pump Probe FFT', 1013, 369, 13.5, { rot: -90 });
label('Frequency ' + wtau + ' (THz)', 1028, 369, 13.5, { rot: -90 });
label('THz Probe Frequency ' + wt + ' (THz)', 1172, 502, 13.6);
</script>
</body>
</html>
